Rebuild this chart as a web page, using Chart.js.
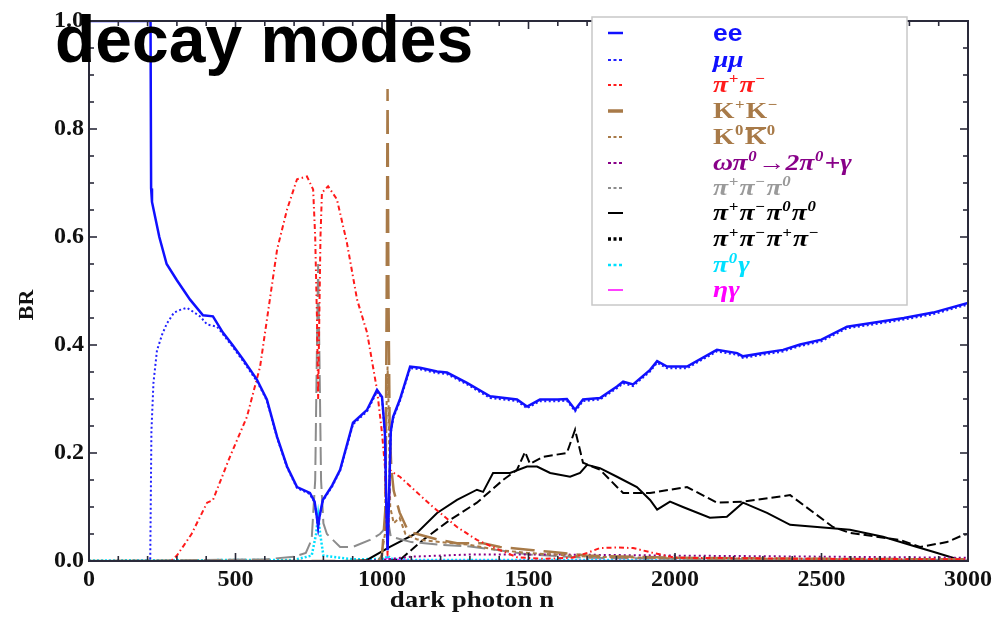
<!DOCTYPE html>
<html><head><meta charset="utf-8">
<script src="https://cdn.jsdelivr.net/npm/chart.js@4.4.0/dist/chart.umd.min.js"></script>
<style>html,body{margin:0;padding:0;background:#fff}</style>
</head><body>
<canvas id="c" width="996" height="627"></canvas>
<script>
// ---------- data (dark photon mass in MeV, branching ratio) ----------
const xTickValues = [0, 500, 1000, 1500, 2000, 2500, 3000];
const yTickValues = [0, 0.2, 0.4, 0.6, 0.8, 1.0];

const eeMass = [0,210,212,215,240,265,300,345,389,423,457,490,526,573,607,642,676,710,754,770,778,782,786,798,830,857,901,949,983,1000,1010,1015,1019,1023,1030,1038,1061,1096,1130,1188,1222,1290,1369,1461,1495,1539,1600,1631,1659,1686,1744,1802,1823,1857,1915,1939,1973,2041,2143,2212,2232,2300,2369,2427,2500,2587,2676,2781,2881,3000];
const eeBR   = [1,1,0.69,0.665,0.6,0.55,0.52,0.484,0.455,0.453,0.423,0.40,0.373,0.336,0.299,0.23,0.175,0.137,0.126,0.11,0.08,0.063,0.08,0.113,0.14,0.169,0.256,0.28,0.317,0.304,0.237,0.1,0.02,0.1,0.24,0.267,0.299,0.36,0.358,0.351,0.349,0.33,0.305,0.299,0.286,0.299,0.299,0.30,0.28,0.299,0.302,0.323,0.332,0.327,0.354,0.37,0.36,0.36,0.391,0.385,0.379,0.385,0.391,0.401,0.41,0.434,0.441,0.45,0.46,0.478];

const mumuMass = [0,209,211,213,220,232,250,266,290,311,334,360,379,403,437,457,490,526,573,607,642,676,710,754,770,778,782,786,798,830,857,901,949,983,1000,1010,1015,1019,1023,1030,1038,1061,1096,1130,1188,1222,1290,1369,1461,1495,1539,1600,1631,1659,1686,1744,1802,1823,1857,1915,1939,1973,2041,2143,2212,2232,2300,2369,2427,2500,2587,2676,2781,2881,3000];
const mumuBR   = [0,0,0.12,0.24,0.33,0.39,0.42,0.44,0.46,0.465,0.469,0.46,0.453,0.438,0.434,0.42,0.397,0.37,0.333,0.297,0.228,0.173,0.135,0.124,0.108,0.079,0.062,0.079,0.111,0.138,0.167,0.253,0.277,0.314,0.301,0.235,0.099,0.02,0.099,0.237,0.264,0.296,0.357,0.355,0.348,0.346,0.327,0.302,0.296,0.283,0.296,0.296,0.297,0.277,0.296,0.299,0.32,0.329,0.324,0.351,0.367,0.357,0.357,0.388,0.382,0.376,0.382,0.388,0.398,0.407,0.431,0.438,0.447,0.457,0.475];

const pipiMass = [0,280,300,350,403,423,481,539,584,642,676,710,744,765,772,778,782,786,790,795,816,846,880,915,949,983,1000,1010,1015,1019,1023,1027,1034,1061,1174,1256,1324,1403,1461,1550,1650,1700,1744,1800,1857,1925,2000,2500,3000];
const pipiBR   = [0,0,0.01,0.05,0.108,0.113,0.193,0.267,0.36,0.577,0.651,0.707,0.712,0.688,0.6,0.45,0.3,0.45,0.6,0.682,0.694,0.67,0.59,0.484,0.423,0.317,0.237,0.175,0.08,0.01,0.08,0.169,0.165,0.156,0.1,0.063,0.039,0.02,0.007,0.004,0.006,0.015,0.024,0.025,0.024,0.015,0.006,0.004,0.003];

const kpkmMass = [0,987,1000,1012,1016,1019,1022,1026,1032,1040,1060,1085,1105,1188,1256,1345,1403,1516,1574,1700,2000,2500,3000];
const kpkmBR   = [0,0,0.01,0.1,0.5,0.874,0.5,0.25,0.17,0.13,0.09,0.06,0.052,0.04,0.033,0.033,0.026,0.02,0.017,0.01,0.006,0.004,0.003];
const kpkmPeak = 5;

const k0k0Mass = [0,995,1010,1016,1019,1022,1028,1040,1060,1080,1120,1200,1300,1400,1500,1700,2000,3000];
const k0k0BR   = [0,0,0.05,0.3,0.36,0.3,0.1,0.07,0.08,0.05,0.04,0.035,0.03,0.02,0.015,0.008,0.005,0.003];

const omegaPiMass = [0,920,1000,1100,1300,1600,2000,2500,3000];
const omegaPiBR   = [0,0,0.002,0.008,0.012,0.012,0.01,0.008,0.006];

const pi3Mass = [0,600,700,740,760,772,778,782,786,792,800,812,857,900,959,993,1010,1019,1030,1100,1200,1300,1400,1500,1700,2000,3000];
const pi3BR   = [0,0.003,0.008,0.015,0.04,0.15,0.4,0.55,0.4,0.15,0.07,0.05,0.026,0.026,0.039,0.05,0.06,0.08,0.045,0.035,0.03,0.027,0.02,0.012,0.006,0.004,0.002];
const pi3Peak = 7;

const pi4nMass = [0,900,949,1027,1119,1188,1256,1324,1345,1379,1437,1495,1529,1574,1642,1676,1700,1744,1802,1870,1915,1939,1983,2027,2119,2177,2232,2314,2393,2485,2597,2710,2826,2881,2973,3000];
const pi4nBR   = [0,0,0.002,0.026,0.052,0.089,0.113,0.132,0.128,0.163,0.163,0.175,0.175,0.163,0.156,0.163,0.178,0.172,0.156,0.137,0.113,0.095,0.11,0.1,0.08,0.082,0.108,0.089,0.067,0.063,0.058,0.045,0.026,0.017,0.002,0.0];

const pi4cMass = [0,1000,1061,1140,1232,1324,1413,1461,1488,1505,1550,1631,1659,1686,1744,1802,1823,1915,2041,2143,2232,2393,2539,2597,2768,2836,2928,2983,3000];
const pi4cBR   = [0,0,0.002,0.039,0.076,0.108,0.15,0.169,0.202,0.18,0.193,0.2,0.243,0.182,0.169,0.137,0.126,0.126,0.137,0.108,0.11,0.122,0.063,0.052,0.039,0.026,0.035,0.048,0.05];

const pi0gMass = [0,700,760,775,782,789,800,900,1010,1019,1030,1100,3000];
const pi0gBR   = [0.001,0.002,0.01,0.05,0.085,0.05,0.01,0.003,0.004,0.01,0.004,0.002,0.001];

const etagMass = [0,1000,1015,1019,1023,1100,3000];
const etagBR   = [0,0.001,0.004,0.008,0.004,0.001,0.001];

// legend labels as rich text: [text, mode] mode 0 normal, 1 superscript, 2 overlined
const legendRich = [
  [['ee',0]],
  [['μμ',0]],
  [['π',0],['+',1],['π',0],['−',1]],
  [['K',0],['+',1],['K',0],['−',1]],
  [['K',0],['0',1],['K',2],['0',1]],
  [['ωπ',0],['0',1],['→2π',0],['0',1],['+γ',0]],
  [['π',0],['+',1],['π',0],['−',1],['π',0],['0',1]],
  [['π',0],['+',1],['π',0],['−',1],['π',0],['0',1],['π',0],['0',1]],
  [['π',0],['+',1],['π',0],['−',1],['π',0],['+',1],['π',0],['−',1]],
  [['π',0],['0',1],['γ',0]],
  [['ηγ',0]]
];

// ---------- styles ----------
const BROWN = '#a87a48';
// keeps the dash pattern of a narrow spike aligned on its way up and down
function spikeDash(mass, br, peak, period, center) {
  return (c) => {
    const xs = c.chart.scales.x, ys = c.chart.scales.y;
    if (!xs || !ys) return 0;
    let d = 0;
    for (let i = 1; i <= peak; i++) {
      d += Math.hypot(xs.getPixelForValue(mass[i]) - xs.getPixelForValue(mass[i - 1]),
                      ys.getPixelForValue(br[i]) - ys.getPixelForValue(br[i - 1]));
    }
    return (((center - d) % period) + period) % period;
  };
}
const seriesDefs = [
  {m: eeMass, v: eeBR, c: '#1010ff', w: 2.5, d: []},
  {m: mumuMass, v: mumuBR, c: '#2020ff', w: 2, d: [2, 2.5]},
  {m: pipiMass, v: pipiBR, c: '#ff1a1a', w: 2, d: [5, 3, 1.5, 3]},
  {m: kpkmMass, v: kpkmBR, c: BROWN, w: 2.5, d: [24, 9], off: spikeDash(kpkmMass, kpkmBR, kpkmPeak, 33, 12)},
  {m: k0k0Mass, v: k0k0BR, c: BROWN, w: 2, d: [4, 3]},
  {m: omegaPiMass, v: omegaPiBR, c: '#880088', w: 2, d: [2, 3]},
  {m: pi3Mass, v: pi3BR, c: '#8c8c8c', w: 2, d: [18, 6], off: spikeDash(pi3Mass, pi3BR, pi3Peak, 24, 9)},
  {m: pi4nMass, v: pi4nBR, c: '#000000', w: 2, d: []},
  {m: pi4cMass, v: pi4cBR, c: '#000000', w: 2, d: [9, 4]},
  {m: pi0gMass, v: pi0gBR, c: '#00e0ff', w: 2.5, d: [2, 2]},
  {m: etagMass, v: etagBR, c: '#ff00ff', w: 1.5, d: []}
];
const legendStyle = [
  {font:'sans', c:'#1010ff'},
  {font:'it', c:'#1010ff'},
  {font:'it', c:'#ff1a1a'},
  {font:'bd', c:BROWN},
  {font:'bd', c:BROWN},
  {font:'it', c:'#880088'},
  {font:'it', c:'#9a9a9a'},
  {font:'it', c:'#000'},
  {font:'it', c:'#000'},
  {font:'it', c:'#00e0ff'},
  {font:'it', c:'#ff00ff'}
];

const datasets = seriesDefs.map((s, i) => ({
  label: 'series' + i,
  data: s.m.map((x, k) => ({x: x, y: s.v[k]})),
  borderColor: s.c,
  borderWidth: s.w,
  borderDash: s.d,
  borderDashOffset: s.off || 0,
  pointRadius: 0,
  tension: 0,
  fill: false
}));

// ---------- plugin: frame, ticks, titles, legend ----------
const decor = {
  id: 'decor',
  afterDatasetsDraw(chart) {
    const {ctx, chartArea: a, scales: {x, y}} = chart;
    ctx.save();
    ctx.strokeStyle = '#2a2a3a';
    ctx.lineWidth = 2;
    ctx.setLineDash([]);
    ctx.strokeRect(a.left, a.top, a.right - a.left, a.bottom - a.top);
    ctx.lineWidth = 1.6;
    const ln = (x1, y1, x2, y2) => { ctx.beginPath(); ctx.moveTo(x1, y1); ctx.lineTo(x2, y2); ctx.stroke(); };
    for (let v = 0; v <= 3000; v += 100) {
      const px = x.getPixelForValue(v);
      const L = v % 500 === 0 ? 8 : 5;
      ln(px, a.bottom, px, a.bottom - L);
      ln(px, a.top, px, a.top + L);
    }
    for (let i = 0; i <= 20; i++) {
      const py = y.getPixelForValue(i * 0.05);
      const L = i % 4 === 0 ? 8 : 5;
      ln(a.left, py, a.left + L, py);
      ln(a.right, py, a.right - L, py);
    }
    // axis titles
    ctx.fillStyle = '#111';
    ctx.font = 'bold 24px "Liberation Serif"';
    ctx.textAlign = 'center';
    ctx.textBaseline = 'middle';
    ctx.save();
    ctx.translate(472, 601);
    ctx.scale(1.12, 1);
    ctx.fillText('dark photon n', 0, 0);
    ctx.restore();
    ctx.save();
    ctx.translate(27, 305);
    ctx.rotate(-Math.PI / 2);
    ctx.font = 'bold 22px "Liberation Serif"';
    ctx.fillText('BR', 0, 0);
    ctx.restore();

    // legend
    const bx = 592, by = 17, bw = 315, bh = 288;
    ctx.fillStyle = '#fff';
    ctx.fillRect(bx, by, bw, bh);
    ctx.strokeStyle = '#c8c8c8';
    ctx.lineWidth = 1.5;
    ctx.strokeRect(bx, by, bw, bh);
    const rows = [33, 60, 85, 111, 137, 163, 188, 213, 239, 265, 290];
    seriesDefs.forEach((s, i) => {
      const ry = rows[i];
      ctx.strokeStyle = s.c;
      ctx.lineWidth = s.w;
      ctx.setLineDash(s.d.length ? [3, 2.5] : []);
      if (i === 3) { ctx.lineWidth = 3.5; ctx.setLineDash([]); }
      if (i === 8) { ctx.lineWidth = 3.5; }
      ln(608, ry, 623, ry);
      ctx.setLineDash([]);
      const st = legendStyle[i];
      ctx.save();
      ctx.translate(713, ry);
      ctx.scale(st.font === 'sans' ? 1.1 : 1.2, 1);
      ctx.fillStyle = st.c;
      ctx.textAlign = 'left';
      ctx.textBaseline = 'middle';
      let cx = 0;
      const base = st.font === 'sans' ? 'bold 24px "Liberation Sans"' :
                   st.font === 'bd' ? 'bold 23px "Liberation Serif"' : 'italic bold 23px "Liberation Serif"';
      const sup = st.font === 'bd' ? 'bold 14px "Liberation Serif"' : 'italic bold 14px "Liberation Serif"';
      legendRich[i].forEach(([t, mode]) => {
        if (mode === 1) {
          ctx.font = sup;
          ctx.fillText(t, cx + 0.5, -6);
          cx += ctx.measureText(t).width + 1.5;
        } else {
          ctx.font = base;
          ctx.fillText(t, cx, 1);
          const w = ctx.measureText(t).width;
          if (mode === 2) {
            ctx.strokeStyle = st.c; ctx.lineWidth = 2;
            ln(cx + 1, -9, cx + w, -9);
          }
          cx += w;
        }
      });
      ctx.restore();
    });

    // big title
    ctx.fillStyle = '#000';
    ctx.font = 'bold 66px "Liberation Sans"';
    ctx.textAlign = 'left';
    ctx.textBaseline = 'alphabetic';
    ctx.fillText('decay modes', 55, 62);
    ctx.restore();
  }
};

const tickFont = {family: '"Liberation Serif"', weight: 'bold', size: 24};

new Chart(document.getElementById('c'), {
  type: 'line',
  data: {datasets: datasets},
  options: {
    responsive: false,
    animation: false,
    devicePixelRatio: 1,
    layout: {padding: {top: 21, right: 28, left: 0, bottom: 0}},
    plugins: {legend: {display: false}, tooltip: {enabled: false}, title: {display: false}},
    scales: {
      x: {
        type: 'linear', min: 0, max: 3000,
        afterBuildTicks: s => { s.ticks = xTickValues.map(v => ({value: v})); },
        ticks: {font: tickFont, color: '#111', padding: 4, maxRotation: 0, autoSkip: false,
                callback: v => String(v)},
        grid: {display: false, drawTicks: false},
        border: {display: false},
        afterFit: s => { s.height = 66; }
      },
      y: {
        type: 'linear', min: 0, max: 1,
        afterBuildTicks: s => { s.ticks = yTickValues.map(v => ({value: v})); },
        ticks: {font: tickFont, color: '#111', padding: 5, callback: v => Number(v).toFixed(1)},
        grid: {display: false, drawTicks: false},
        border: {display: false},
        afterFit: s => { s.width = 89; }
      }
    }
  },
  plugins: [decor]
});
</script>
</body></html>
